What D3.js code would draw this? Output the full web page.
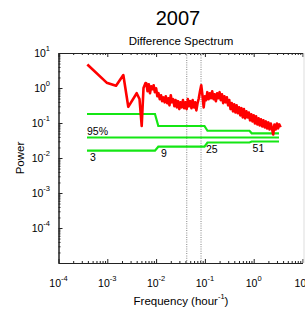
<!DOCTYPE html>
<html>
<head>
<meta charset="utf-8">
<script src="https://cdn.jsdelivr.net/npm/d3@7"></script>
<style>
  body { margin: 0; background: #fff; }
  text { font-family: "Liberation Sans", Arial, Helvetica, sans-serif; fill: #000; }
</style>
</head>
<body>
<div id="chart"></div>
<script>
// spectrum (frequency in 1/hour, power)
var freq = [3.9e-4, 9.7e-4, 1.51e-3, 2.13e-3, 2.69e-3, 4.0e-3, 4.57e-3, 5.07e-3, 5.52e-3, 6.07e-3,
  0.00631, 0.00668, 0.00708, 0.0075, 0.00794, 0.00841, 0.00891, 0.00944, 0.0100, 0.0106,
  0.0112, 0.0119, 0.0126, 0.0133, 0.0141, 0.0150, 0.0158, 0.0168, 0.0178, 0.0188,
  0.0200, 0.0211, 0.0224, 0.0237, 0.0251, 0.0266, 0.0282, 0.0299, 0.0316, 0.0335,
  0.0355, 0.0376, 0.0398, 0.0422, 0.0447, 0.0473, 0.0501, 0.0531, 0.0562, 0.0596,
  0.0631, 0.0668, 0.0708, 0.0750, 0.0794, 0.0841, 0.0891, 0.0944, 0.100, 0.106,
  0.112, 0.119, 0.126, 0.133, 0.141, 0.150, 0.158, 0.168, 0.178, 0.188,
  0.200, 0.211, 0.224, 0.237, 0.251, 0.266, 0.282, 0.299, 0.316, 0.335,
  0.355, 0.376, 0.398, 0.422, 0.447, 0.473, 0.501, 0.531, 0.562, 0.596,
  0.631, 0.668, 0.708, 0.750, 0.794, 0.841, 0.891, 0.944, 1.00, 1.06,
  1.12, 1.19, 1.26, 1.33, 1.41, 1.50, 1.58, 1.68, 1.78, 1.88,
  2.00, 2.11, 2.24, 2.37, 2.51, 2.66, 2.82, 2.99, 3.16, 3.35, 3.55];
var power = [4.7, 1.42, 1.16, 2.35, 0.29, 0.71, 0.485, 0.082, 1.0, 1.39,
  1.37, 0.81, 1.28, 0.71, 1.12, 0.92, 1.20, 0.76, 0.98, 0.58,
  0.71, 0.48, 0.62, 0.42, 0.54, 0.39, 0.58, 0.37, 0.51, 0.32,
  0.62, 0.39, 0.48, 0.30, 0.45, 0.28, 0.42, 0.25, 0.39, 0.28,
  0.45, 0.265, 0.39, 0.25, 0.48, 0.30, 0.42, 0.265, 0.45, 0.28,
  0.39, 0.23, 0.37, 0.51, 0.81, 1.20, 0.62, 0.28, 0.58, 0.45,
  0.76, 0.48, 0.71, 0.51, 0.81, 0.48, 0.66, 0.42, 0.71, 0.51,
  0.76, 0.45, 0.66, 0.37, 0.58, 0.39, 0.54, 0.32, 0.45, 0.25,
  0.37, 0.215, 0.34, 0.20, 0.32, 0.19, 0.28, 0.165, 0.265, 0.145,
  0.25, 0.136, 0.215, 0.145, 0.20, 0.119, 0.178, 0.111, 0.165, 0.097,
  0.155, 0.091, 0.136, 0.085, 0.127, 0.080, 0.119, 0.075, 0.111, 0.070,
  0.104, 0.065, 0.097, 0.070, 0.047, 0.091, 0.065, 0.097, 0.070, 0.091, 0.075];

// confidence interval steps (upper / lower) and 95% level
var ciFreq = [3.84e-4, 0.00948, 0.0111, 0.098, 0.113, 0.82, 0.91, 3.3];
var ciUpper = [0.181, 0.181, 0.082, 0.082, 0.060, 0.060, 0.0508, 0.0508];
var ciLower = [0.0162, 0.0162, 0.021, 0.021, 0.0277, 0.0277, 0.0296, 0.0296];
var sigFreq = [3.84e-4, 3.3];
var sigLevel = 0.0385;
var sigLabel = '95%';

// degrees of freedom per band
var dofLabels = ['3', '9', '25', '51'];
var dofFreq = [4.4e-4, 0.0126, 0.105, 0.95];
var dofLevel = [0.0162, 0.021, 0.0277, 0.0296];

// tidal lines (diurnal, semidiurnal)
var tideFreq = [0.0424, 0.0833];

var xExp = [-4, -3, -2, -1, 0, 1];
var yExp = [-4, -3, -2, -1, 0, 1];

(function() {
    'use strict';

    var width = 305, height = 310;
    var mLeft = 58.5, mRight = 302.5, mTop = 53, mBottom = 263;

    var svg = d3.select('#chart').append('svg')
        .attr('width', width)
        .attr('height', height);

    var x = d3.scaleLog().domain([1e-4, 1e1]).range([mLeft, mRight]);
    var y = d3.scaleLog().domain([1e-5, 1e1]).range([mBottom, mTop]);

    var isMajor = function(d) {
        return Math.abs(Math.log10(d) - Math.round(Math.log10(d))) < 1e-6;
    };
    var minorX = x.ticks().filter(function(d) { return !isMajor(d); });
    var minorY = y.ticks().filter(function(d) { return !isMajor(d); });
    var majorX = xExp.map(function(e) { return Math.pow(10, e); });
    var majorY = [-5].concat(yExp).map(function(e) { return Math.pow(10, e); });

    // axes, ticks pointing inward
    var styleAxis = function(g) {
        g.selectAll('path').attr('stroke', '#222');
        g.selectAll('line').attr('stroke', '#222');
        g.selectAll('text').remove();
    };
    var addAxis = function(axisFn, scale, vals, size, tr) {
        svg.append('g').attr('transform', tr)
            .call(axisFn(scale).tickValues(vals).tickSize(size).tickSizeOuter(0))
            .call(styleAxis);
    };
    addAxis(d3.axisBottom, x, majorX, -4, 'translate(0,' + mBottom + ')');
    addAxis(d3.axisBottom, x, minorX, -2, 'translate(0,' + mBottom + ')');
    addAxis(d3.axisTop, x, majorX, -4, 'translate(0,' + mTop + ')');
    addAxis(d3.axisTop, x, minorX, -2, 'translate(0,' + mTop + ')');
    addAxis(d3.axisLeft, y, majorY, -4, 'translate(' + mLeft + ',0)');
    addAxis(d3.axisLeft, y, minorY, -2, 'translate(' + mLeft + ',0)');

    // faint right edge
    svg.append('line')
        .attr('x1', mRight + 1.5).attr('x2', mRight + 1.5)
        .attr('y1', mTop).attr('y2', mBottom)
        .attr('stroke', '#ddd');

    // tick labels with superscripts
    var xl = svg.append('g').selectAll('text').data(xExp).enter().append('text')
        .attr('x', function(d) { return x(Math.pow(10, d)); })
        .attr('y', 287)
        .attr('text-anchor', 'middle')
        .style('font-size', '10.5px');
    xl.append('tspan').text('10');
    xl.append('tspan').attr('dy', -6.5).style('font-size', '7.5px').text(function(d) { return d; });

    var yl = svg.append('g').selectAll('text').data(yExp).enter().append('text')
        .attr('x', 50)
        .attr('y', function(d) { return y(Math.pow(10, d)) + 4; })
        .attr('text-anchor', 'end')
        .style('font-size', '10.5px');
    yl.append('tspan').text('10');
    yl.append('tspan').attr('dy', -6.5).style('font-size', '7.5px').text(function(d) { return d; });

    // dotted tidal lines
    svg.append('g').selectAll('line').data(tideFreq).enter().append('line')
        .attr('x1', function(d) { return x(d); })
        .attr('x2', function(d) { return x(d); })
        .attr('y1', mTop).attr('y2', mBottom)
        .attr('stroke', '#999')
        .attr('stroke-width', 1.2)
        .attr('stroke-dasharray', '1,1.3');

    var line = d3.line()
        .x(function(d) { return x(d[0]); })
        .y(function(d) { return y(d[1]); });

    var green = '#14e614';
    [ciUpper, ciLower].forEach(function(vals) {
        svg.append('path')
            .datum(ciFreq.map(function(f, i) { return [f, vals[i]]; }))
            .attr('d', line)
            .attr('fill', 'none')
            .attr('stroke', green)
            .attr('stroke-width', 2.2);
    });
    svg.append('path')
        .datum(sigFreq.map(function(f) { return [f, sigLevel]; }))
        .attr('d', line)
        .attr('fill', 'none')
        .attr('stroke', green)
        .attr('stroke-width', 2.2);

    // spectrum
    svg.append('path')
        .datum(freq.map(function(f, i) { return [f, power[i]]; }))
        .attr('d', line)
        .attr('fill', 'none')
        .attr('stroke', '#ff0000')
        .attr('stroke-width', 2.6)
        .attr('stroke-linejoin', 'round');

    // labels on the confidence lines
    svg.append('text')
        .attr('x', x(sigFreq[0]))
        .attr('y', y(sigLevel) - 3)
        .style('font-size', '10.5px')
        .text(sigLabel);
    svg.append('g').selectAll('text').data(dofLabels).enter().append('text')
        .attr('x', function(d, i) { return x(dofFreq[i]); })
        .attr('y', function(d, i) { return y(dofLevel[i]) + 10; })
        .style('font-size', '10.5px')
        .text(function(d) { return d; });

    // titles
    svg.append('text')
        .attr('x', 178).attr('y', 25)
        .attr('text-anchor', 'middle')
        .style('font-size', '20px')
        .text('2007');
    svg.append('text')
        .attr('x', 181).attr('y', 45)
        .attr('text-anchor', 'middle')
        .style('font-size', '11.5px')
        .text('Difference Spectrum');

    var xt = svg.append('text')
        .attr('x', 181).attr('y', 305)
        .attr('text-anchor', 'middle')
        .style('font-size', '11.5px');
    xt.append('tspan').text('Frequency (hour');
    xt.append('tspan').attr('dy', -6).style('font-size', '7.5px').text('-1');
    xt.append('tspan').attr('dy', 6).text(')');

    svg.append('text')
        .attr('transform', 'translate(24,' + ((mTop + mBottom) / 2) + ') rotate(-90)')
        .attr('text-anchor', 'middle')
        .style('font-size', '11.5px')
        .text('Power');
})();
</script>
</body>
</html>
